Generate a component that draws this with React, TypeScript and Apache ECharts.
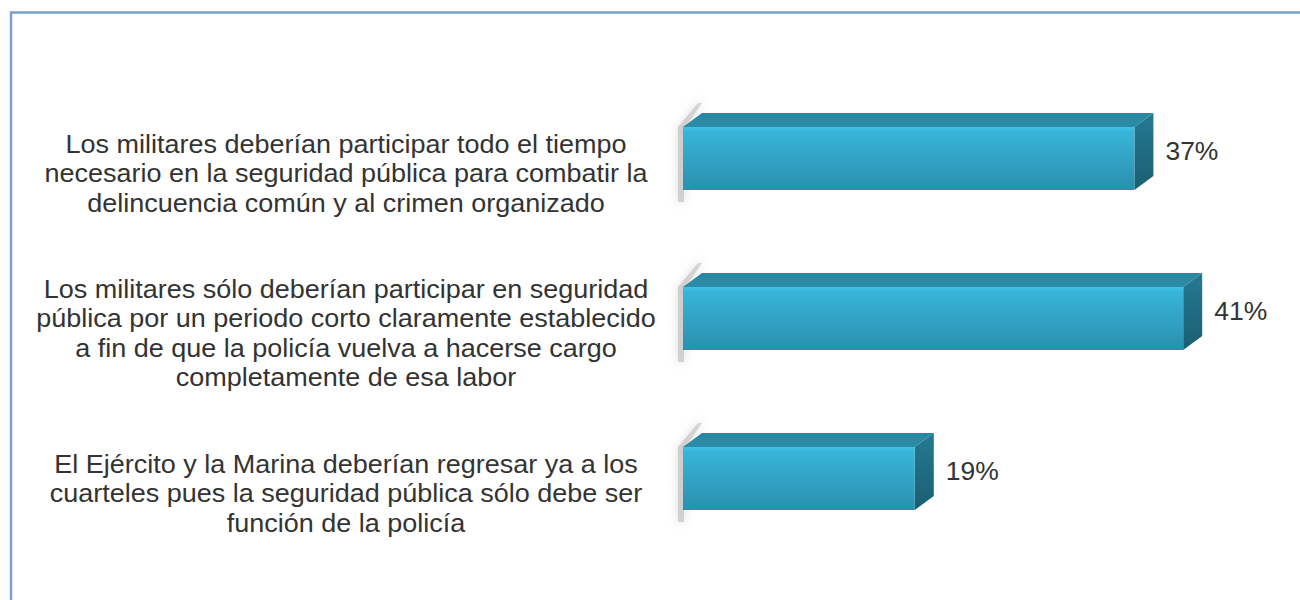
import React, { useEffect, useRef } from 'react';
import * as echarts from 'echarts';

const categories = [
  'Los militares deberían participar todo el tiempo\nnecesario en la seguridad pública para combatir la\ndelincuencia común y al crimen organizado',
  'Los militares sólo deberían participar en seguridad\npública por un periodo corto claramente establecido\na fin de que la policía vuelva a hacerse cargo\ncompletamente de esa labor',
  'El Ejército y la Marina deberían regresar ya a los\ncuarteles pues la seguridad pública sólo debe ser\nfunción de la policía',
];
const values = [37, 41, 19];

const FONT = "'Liberation Sans', Arial, Helvetica, sans-serif";

export default function App() {
  const ref = useRef<HTMLDivElement>(null);
  useEffect(() => {
    const chart = echarts.init(ref.current!, null, { renderer: 'svg' });
    const DX = 19;
    const DY = 14;
    const H = 63;
    const SHIFT = 15;
    const LABEL_CX = 346;

    const renderItem = (params: any, api: any) => {
      const v = api.value(0);
      const idx = api.value(1);
      const end = api.coord([v, idx]);
      const start = api.coord([0, idx]);
      const x0 = start[0];
      const x1 = end[0];
      const cy = end[1] - SHIFT;
      const top = cy - H / 2;
      const bot = cy + H / 2;
      return {
        type: 'group',
        children: [
          {
            type: 'text',
            x: LABEL_CX,
            y: end[1],
            scaleX: 1.08,
            style: {
              text: categories[idx],
              fill: '#333',
              fontSize: 25,
              lineHeight: 29.5,
              fontFamily: FONT,
              align: 'center',
              verticalAlign: 'middle',
            },
          },
          {
            type: 'polygon',
            shape: {
              points: [
                [x0 - 5, bot + 12],
                [x0 - 5, top],
                [x0 + DX - 4, top - DY - 10],
                [x0 + DX, top - DY - 10],
                [x0 + 1, top + 2],
                [x0 + 1, bot + 12],
              ],
            },
            style: { fill: 'rgba(170,170,170,0.45)', shadowBlur: 8, shadowColor: 'rgba(130,130,130,0.7)' },
          },
          {
            type: 'polygon',
            shape: { points: [[x0, top], [x0 + DX, top - DY], [x1 + DX, top - DY], [x1, top]] },
            style: {
              fill: new echarts.graphic.LinearGradient(0, 0, 0, 1, [
                { offset: 0, color: '#2a87a1' },
                { offset: 1, color: '#2b8ca8' },
              ]),
            },
          },
          {
            type: 'polygon',
            shape: { points: [[x1, top], [x1 + DX, top - DY], [x1 + DX, bot - DY], [x1, bot]] },
            style: {
              fill: new echarts.graphic.LinearGradient(0, 0, 0, 1, [
                { offset: 0, color: '#247a92' },
                { offset: 1, color: '#1b5e72' },
              ]),
            },
          },
          {
            type: 'rect',
            shape: { x: x0, y: top, width: x1 - x0, height: H },
            style: {
              fill: new echarts.graphic.LinearGradient(0, 0, 0, 1, [
                { offset: 0, color: '#3ec2e6' },
                { offset: 0.08, color: '#37b5d9' },
                { offset: 1, color: '#2b8fad' },
              ]),
            },
          },
          {
            type: 'text',
            x: x1 + DX + 12,
            y: cy - 7,
            scaleX: 1.06,
            style: {
              text: v + '%',
              fill: '#333',
              fontSize: 25,
              fontFamily: FONT,
              verticalAlign: 'middle',
              align: 'left',
            },
          },
        ],
      };
    };

    chart.setOption({
      animation: false,
      backgroundColor: '#ffffff',
      grid: { left: 683, right: 7, top: 93.5, bottom: 26.5 },
      xAxis: { type: 'value', min: 0, max: 50, show: false },
      yAxis: {
        type: 'category',
        data: categories,
        inverse: true,
        axisLine: { show: false },
        axisTick: { show: false },
        splitLine: { show: false },
        axisLabel: { show: false },
      },
      graphic: [
        {
          type: 'rect',
          shape: { x: 11, y: 12.5, width: 1400, height: 700 },
          style: { fill: 'none', stroke: '#7b9fd0', lineWidth: 2.5 },
          silent: true,
        },
      ],
      series: [
        {
          type: 'custom',
          renderItem,
          clip: false,
          data: values.map((v, i) => [v, i]),
          encode: { x: 0, y: 1 },
        },
      ],
    });
    return () => chart.dispose();
  }, []);
  return (
    <div
      ref={ref}
      style={{ position: 'absolute', left: 0, top: 0, width: 1300, height: 600 }}
    />
  );
}
